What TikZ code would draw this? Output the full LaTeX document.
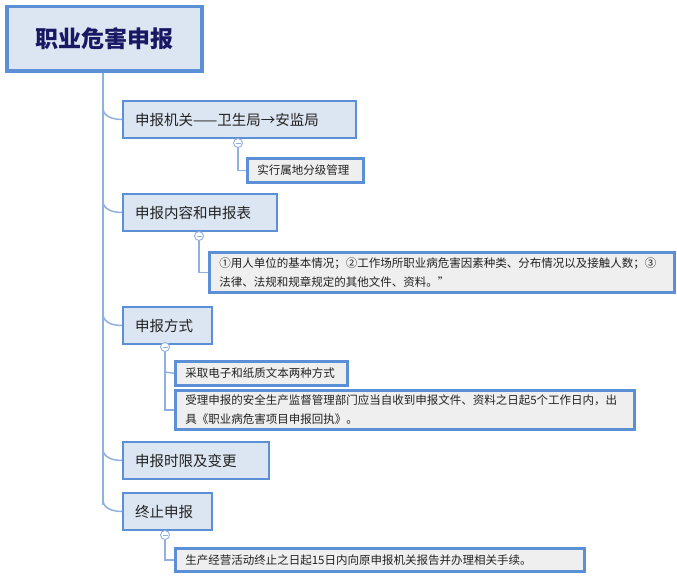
\documentclass[tikz,border=0pt]{standalone}
\usepackage{fontspec}
\setmainfont{Noto Sans CJK SC}
\begin{document}
\begin{tikzpicture}[x=1pt,y=-1pt,
  bx/.style={draw=bd,line width=2pt,fill=lf,inner xsep=0pt,inner ysep=0pt,anchor=north west,text=tx,align=left},
  ch/.style={draw=bd,line width=2.5pt,fill=cf,inner sep=0pt,anchor=north west,text=tx,font=\fontsize{11.5}{19}\selectfont,align=left},
  ln/.style={draw=lc,line width=1.5pt},
  cir/.style={circle,draw=lc,fill=white,line width=0.9pt,minimum size=9pt,inner sep=0pt}]
\definecolor{bd}{HTML}{5B8FD6}
\definecolor{lf}{HTML}{DCE6F2}
\definecolor{cf}{HTML}{EFEFEF}
\definecolor{tx}{HTML}{222222}
\definecolor{lc}{HTML}{8FB0E0}
\useasboundingbox (0,0) rectangle (677,578);
\fill[white] (0,0) rectangle (677,578);
% trunk
\draw[ln] (103,69) -- (103,505);
\node[bx,line width=3.5pt,minimum width=195pt,minimum height=64pt,align=center,font=\bfseries\fontsize{23}{26}\selectfont,text=tx!70!blue] (root) at (5,5) {职业危害申报};
\foreach \n/\x/\y/\w/\t in {a/122/100/233/申报机关——卫生局→安监局, b/122/193/154/申报内容和申报表, c/122/306/89/申报方式, d/122/441/146/申报时限及变更, e/122/492/89/终止申报}{
  \node[bx,minimum width=\w pt,minimum height=37pt,text width=\w pt,font=\fontsize{14.5}{17}\selectfont] (\n) at (\x,\y) {\hspace*{12pt}\t};
  \draw[ln] (103,\y+8) to[out=-90,in=180] (\n.west);
}
% children
\node[ch,minimum width=116pt,minimum height=24pt,text width=116pt] (a1) at (246,157) {\hspace*{10pt}实行属地分级管理};
\node[cir] (ca) at (238,143) {};
\draw[ln] (ca) |- (a1.west);
\draw[lc] (235.5,143)--(240.5,143);
\node[ch,minimum width=465pt,minimum height=40pt,text width=465pt] (b1) at (208,251) {\hspace*{10pt}①用人单位的基本情况；②工作场所职业病危害因素种类、分布情况以及接触人数；③\\\hspace*{10pt}法律、法规和规章规定的其他文件、资料。”};
\node[cir] (cb) at (199,236) {};
\draw[ln] (cb) |- (b1.west);
\draw[lc] (196.5,236)--(201.5,236);
\node[ch,minimum width=172pt,minimum height=24pt,text width=172pt] (c1) at (174,360) {\hspace*{10pt}采取电子和纸质文本两种方式};
\node[ch,minimum width=459pt,minimum height=39pt,text width=459pt] (c2) at (174,389) {\hspace*{10pt}受理申报的安全生产监督管理部门应当自收到申报文件、资料之日起5个工作日内，出\\\hspace*{10pt}具《职业病危害项目申报回执》。};
\node[cir] (cc) at (165,347) {};
\draw[ln] (cc) |- (c2.west);
\draw[ln] (165,372) -- (c1.west);
\draw[lc] (162.5,347)--(167.5,347);
\node[ch,minimum width=409pt,minimum height=23pt,text width=409pt] (e1) at (174,547) {\hspace*{10pt}生产经营活动终止之日起15日内向原申报机关报告并办理相关手续。};
\node[cir] (ce) at (165,535) {};
\draw[ln] (ce) |- (e1.west);
\draw[lc] (162.5,535)--(167.5,535);
\end{tikzpicture}
\end{document}
